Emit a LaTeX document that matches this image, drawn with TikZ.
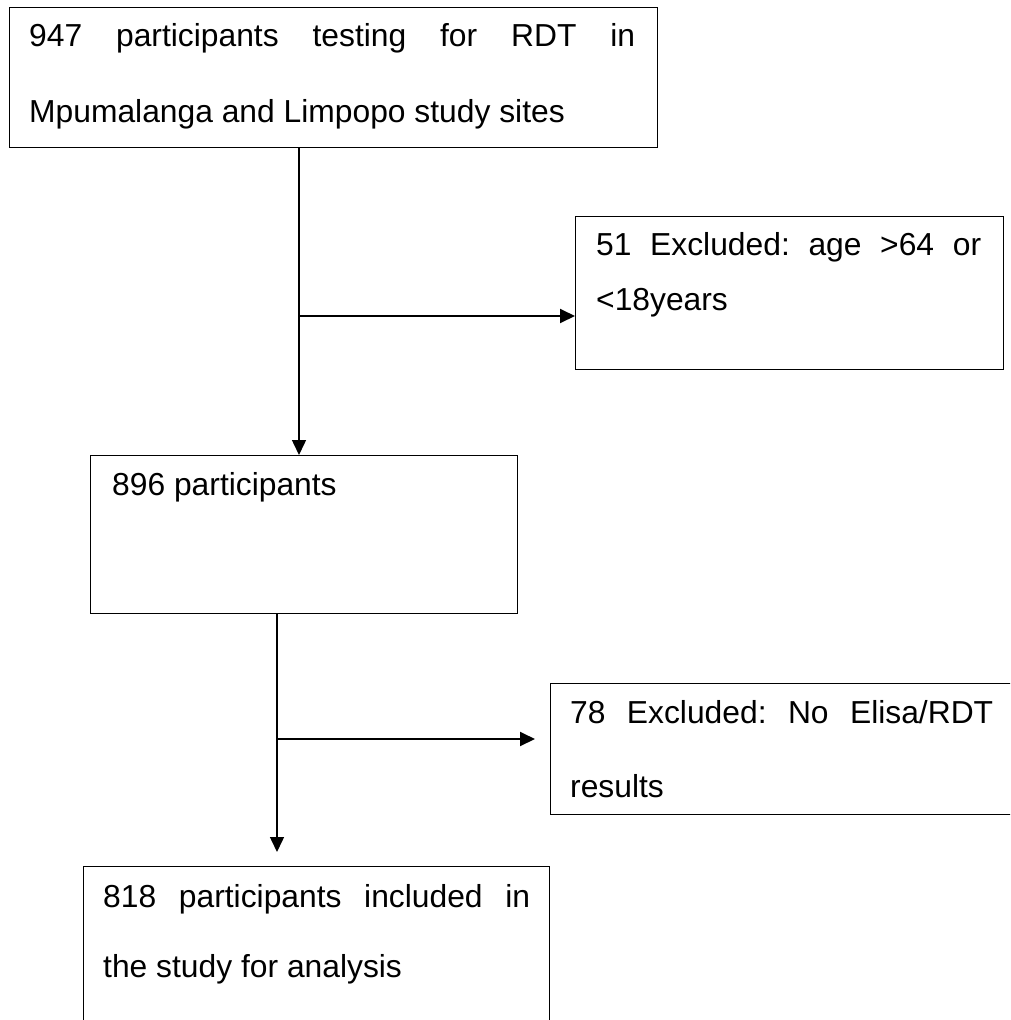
\documentclass[tikz,border=0pt]{standalone}
\usepackage{fontspec}
\setmainfont{Liberation Sans}
\usetikzlibrary{arrows.meta}
\tikzset{
  flowbox/.style={draw, line width=1.4pt, inner sep=0pt, anchor=north west},
  boxtext/.style={anchor=base west, inner sep=0pt, font=\fontsize{31.8}{38}\selectfont},
  link/.style={line width=1.5pt},
  arr/.style={line width=1.5pt, -{Triangle[length=15pt,width=14pt]}},
  sidearr/.style={line width=1.9pt, -{Triangle[length=15pt,width=14pt]}}
}
\begin{document}
\begin{tikzpicture}[x=1pt,y=-1pt]
\useasboundingbox (0,0) rectangle (1010,1020);
\fill[white] (0,0) rectangle (1010,1020);
\clip (0,0) rectangle (1010,1020);

% boxes
\node[flowbox, minimum width=648pt, minimum height=140pt] (b1) at (9,7) {};
\node[flowbox, minimum width=428pt, minimum height=153pt] (b2) at (575,216) {};
\node[flowbox, minimum width=427pt, minimum height=158pt] (b3) at (90,455) {};
\node[flowbox, minimum width=480pt, minimum height=131pt] (b4) at (550,683) {};
\node[flowbox, minimum width=466pt, minimum height=190pt] (b5) at (83,866) {};

% texts
\node[boxtext] (t1a) at (29,46) {\hbox to 606pt{947\hfill participants\hfill testing\hfill for\hfill RDT\hfill in}};
\node[boxtext] (t1b) at (29,122) {Mpumalanga and Limpopo study sites};
\node[boxtext] (t2a) at (596,255) {\hbox to 385pt{51\hfill Excluded:\hfill age\hfill >64\hfill or}};
\node[boxtext] (t2b) at (596,310) {<18years};
\node[boxtext] (t3) at (112,495) {896 participants};
\node[boxtext] (t4a) at (570,723) {\hbox to 423pt{78\hfill Excluded:\hfill No\hfill Elisa/RDT}};
\node[boxtext] (t4b) at (570,797) {results};
\node[boxtext] (t5a) at (103,907) {\hbox to 427pt{818\hfill participants\hfill included\hfill in}};
\node[boxtext] (t5b) at (103,977) {the study for analysis};

% junctions and free arrow ends
\coordinate (j1) at (299,316);
\coordinate (j2) at (277,739);
\coordinate (e2) at (535,739);
\coordinate (e3) at (277,852);

% connectors
\draw[arr] (b1.south -| j1) -- (b3.north -| j1);
\draw[sidearr] (j1) -- (b2.west |- j1);
\draw[arr] (b3.south -| j2) -- (e3);
\draw[sidearr] (j2) -- (e2);
\end{tikzpicture}
\end{document}
